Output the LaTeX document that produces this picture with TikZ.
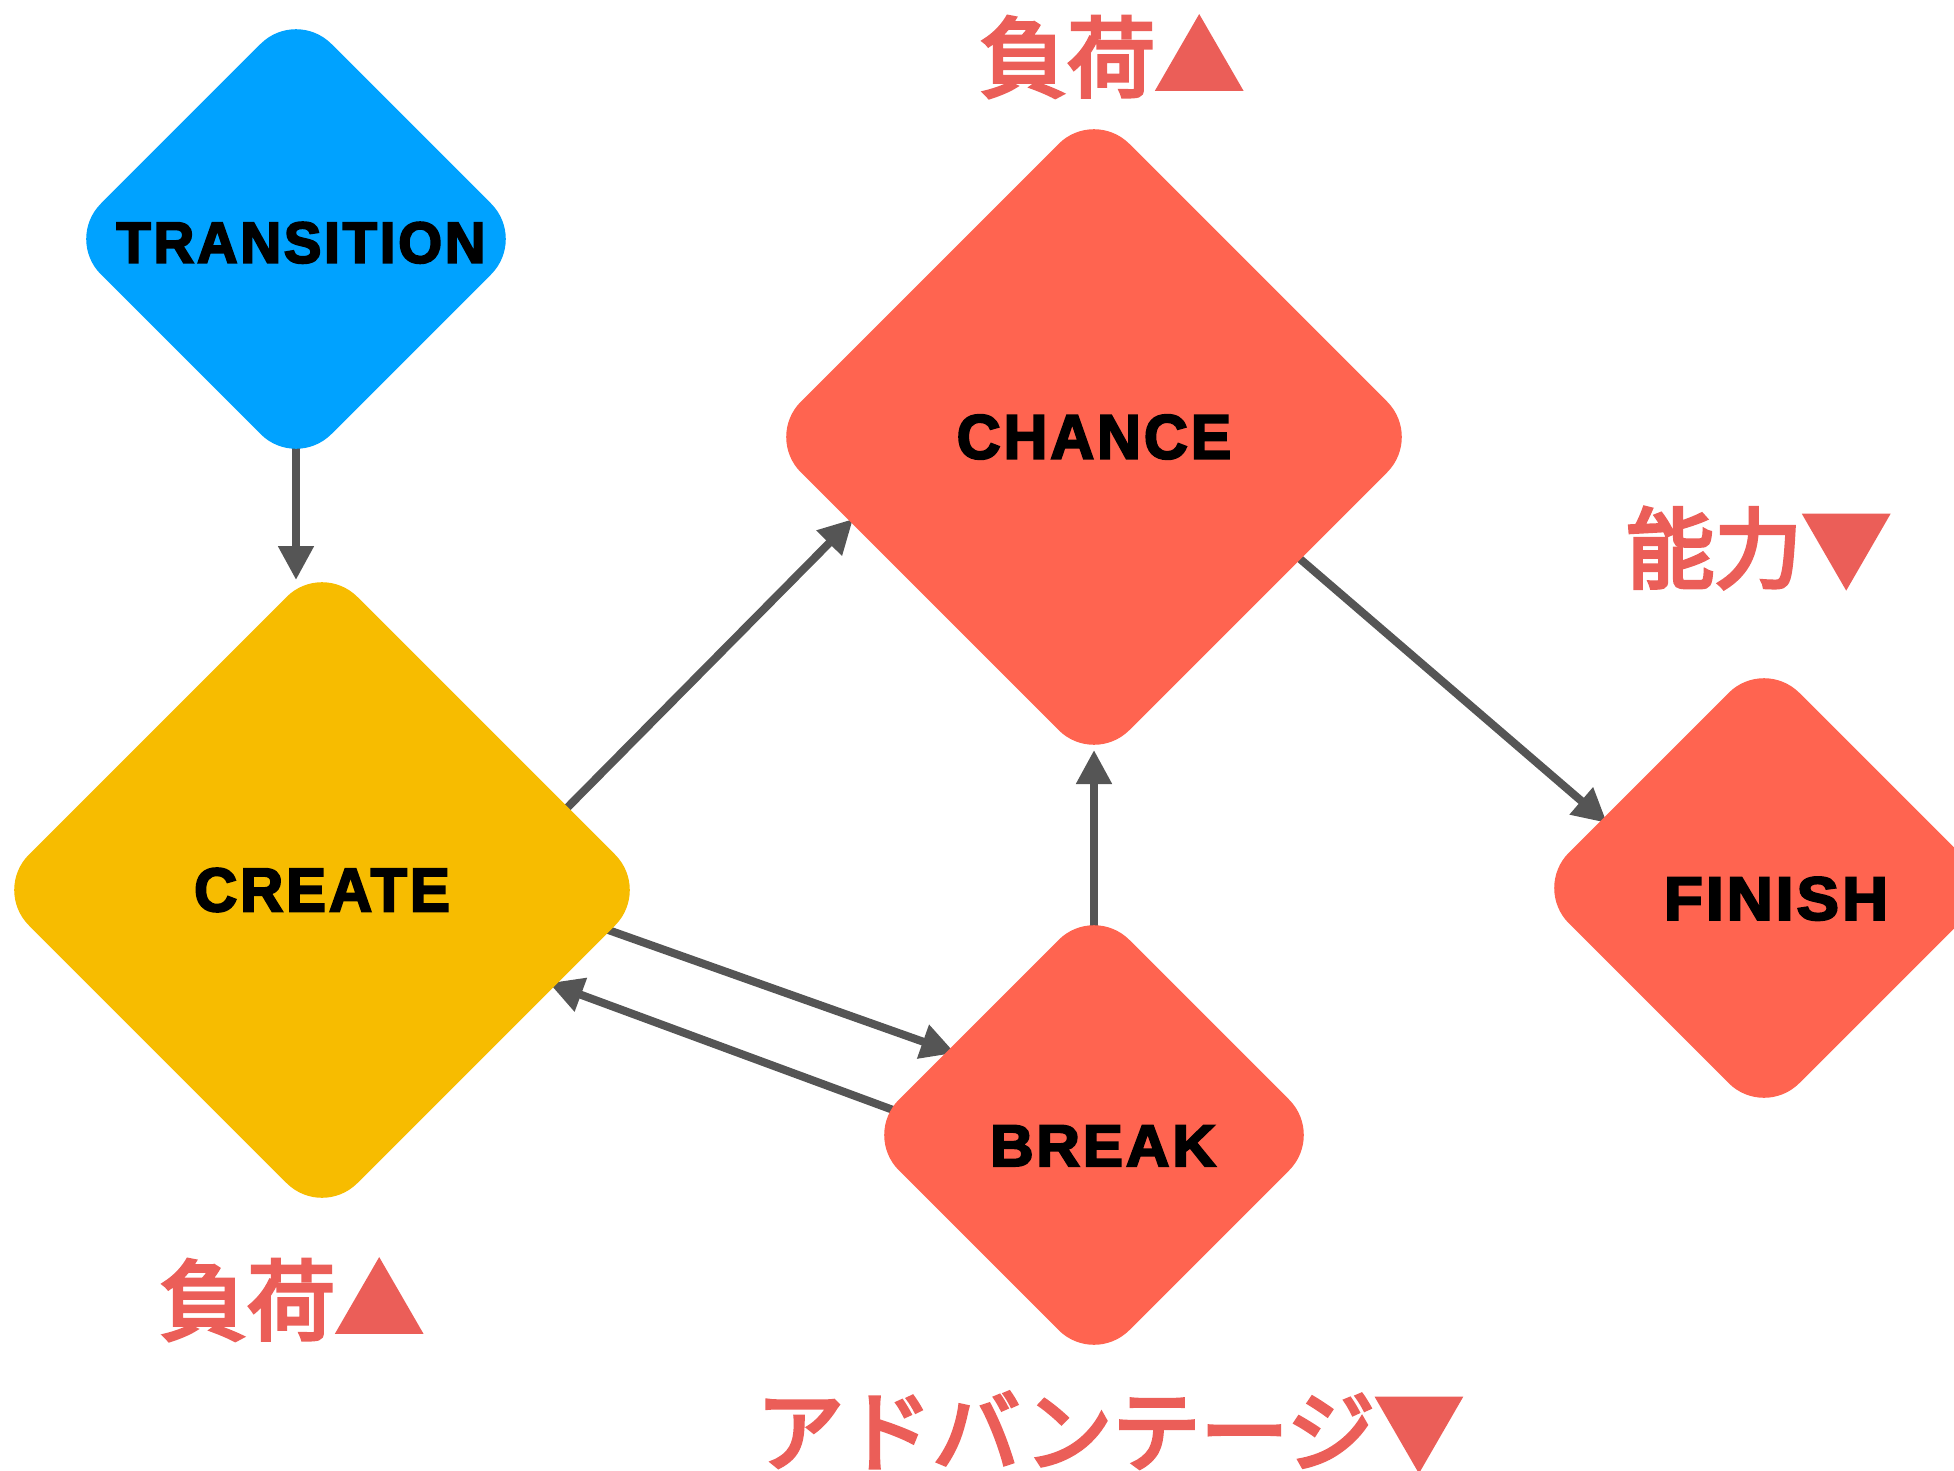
\documentclass[tikz,border=0pt]{standalone}
\usepackage{fontspec}
\newfontfamily\heavyfont{Liberation Sans Bold}[FakeBold=3.5,LetterSpace=5]
\newfontfamily\cjkfont{Noto Sans CJK JP}[FakeBold=4]
\usetikzlibrary{shapes.geometric,arrows.meta,calc,backgrounds}
\definecolor{blueT}{HTML}{00A2FF}
\definecolor{yelC}{HTML}{F7BC00}
\definecolor{redD}{HTML}{FF6450}
\definecolor{lblred}{HTML}{EB5E58}
\definecolor{linegray}{HTML}{555555}
\newcommand{\dtext}[3]{\scalebox{#2}[1]{\fontsize{#1}{#1}\selectfont #3}}
\tikzset{
  dia/.style={diamond, aspect=1, inner sep=0pt, outer sep=0pt, rounded corners=50pt, font=\heavyfont, text=black},
  conn/.style={draw=linegray, line width=8pt, -{Triangle[length=34pt,width=34pt]}},
  lbl/.style={text=lblred, font=\cjkfont\fontsize{88}{88}\selectfont, anchor=west, inner sep=0pt}
}
\begin{document}
\begin{tikzpicture}[x=1pt,y=-1pt]
\useasboundingbox (0,0) rectangle (1954,1471);
\clip (0,0) rectangle (1954,1471);
% diamonds
\node[dia, fill=blueT, minimum size=461] (trans) at (296,239) {\hspace{10pt}\rule{0pt}{48pt}\dtext{58}{0.97}{TRANSITION}};
\node[dia, fill=yelC, minimum size=657] (create) at (322,890) {\dtext{61.5}{0.97}{CREATE}};
\node[dia, fill=redD, minimum size=657] (chance) at (1094,437) {\dtext{62.5}{0.97}{CHANCE}};
\node[dia, fill=redD, minimum size=461] (brk) at (1094,1135) {\hspace{18pt}\rule{0pt}{62pt}\dtext{58.7}{1.024}{BREAK}};
\node[dia, fill=redD, minimum size=461] (finish) at (1764,888) {\hspace{24pt}\rule{0pt}{64pt}\dtext{61}{1.04}{FINISH}};
% connectors
\begin{scope}[on background layer]
\draw[conn] ($(trans.center)+(0,200)$) -- ($(create.center)+(-26,-310)$);
\draw[conn] ($(create.center)+(238,-75)$) -- ($(chance.center)+(-241,82)$);
\draw[conn] ($(chance.center)+(198,115)$) -- ($(finish.center)+(-157,-65)$);
\draw[conn] ($(create.center)+(275,36)$) -- ($(brk.center)+(-139,-82)$);
\draw[conn] ($(brk.center)+(-190,-21)$) -- ($(create.center)+(227,93)$);
\draw[conn] ($(brk.center)+(0,-200)$) -- ($(chance.center)+(0,313)$);
\end{scope}
% labels
\node[lbl] (loadtop) at (979,57) {負荷▲};
\node[lbl] (loadleft) at (159,1300) {負荷▲};
\node[lbl] (ability) at (1626,548) {能力▼};
\node[lbl] (adv) at (756,1431) {アドバンテージ▼};
\end{tikzpicture}
\end{document}
